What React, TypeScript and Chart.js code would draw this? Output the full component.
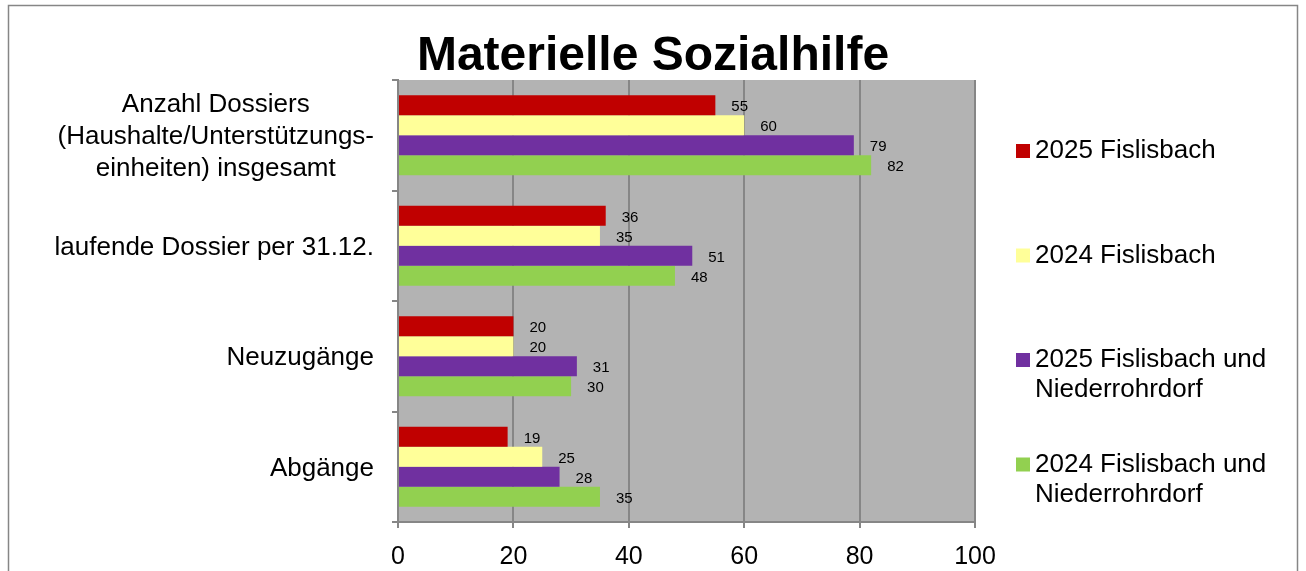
import React, { useEffect, useRef } from "react";
import { Chart, registerables } from "chart.js";

Chart.register(...registerables);

const chartTitle = "Materielle Sozialhilfe";
const categories: string[][] = [
  ["Anzahl Dossiers", "(Haushalte/Unterstützungs-", "einheiten) insgesamt"],
  ["laufende Dossier per 31.12."],
  ["Neuzugänge"],
  ["Abgänge"],
];
const seriesNames = [
  "2025 Fislisbach",
  "2024 Fislisbach",
  "2025 Fislisbach und Niederrohrdorf",
  "2024 Fislisbach und Niederrohrdorf",
];
const series2025Fislisbach = [55, 36, 20, 19];
const series2024Fislisbach = [60, 35, 20, 25];
const series2025Both = [79, 51, 31, 28];
const series2024Both = [82, 48, 30, 35];
const seriesValues = [series2025Fislisbach, series2024Fislisbach, series2025Both, series2024Both];
const seriesColors = ["#C00000", "#FFFF99", "#7030A0", "#92D050"];
const xMin = 0;
const xMax = 100;
const xStep = 20;

const FONT = '"Liberation Sans", Arial, sans-serif';
const GRID = "#868686";

const decorPlugin = {
  id: "decor",
  beforeDraw(chart: any) {
    const { ctx, chartArea: a, width, height } = chart;
    ctx.save();
    ctx.fillStyle = "#ffffff";
    ctx.fillRect(0, 0, width, height);
    ctx.strokeStyle = GRID;
    ctx.lineWidth = 1.5;
    ctx.strokeRect(8.5, 5.5, 1289, 700);
    ctx.fillStyle = "#b3b3b3";
    ctx.fillRect(a.left, a.top, a.right - a.left, a.bottom - a.top);
    ctx.restore();
  },
  afterDraw(chart: any) {
    const { ctx } = chart;
    ctx.save();
    // title
    ctx.fillStyle = "#000";
    ctx.font = `bold 48px ${FONT}`;
    ctx.textAlign = "center";
    ctx.textBaseline = "alphabetic";
    ctx.fillText(chartTitle, 653, 70);

    // y labels
    const yScale = chart.scales.y;
    ctx.font = `26px ${FONT}`;
    ctx.textBaseline = "middle";
    const lineH = 32;
    const rightEdge = 374;
    categories.forEach((lines, i) => {
      const cy = yScale.getPixelForTick(i);
      const w = Math.max(...lines.map((l) => ctx.measureText(l).width));
      const cx = rightEdge - w / 2;
      const y0 = cy - ((lines.length - 1) * lineH) / 2 + 2;
      ctx.textAlign = "center";
      lines.forEach((l, k) => ctx.fillText(l, cx, y0 + k * lineH));
    });

    // data labels
    ctx.font = `15px ${FONT}`;
    ctx.textAlign = "left";
    ctx.textBaseline = "middle";
    chart.data.datasets.forEach((ds: any, i: number) => {
      const meta = chart.getDatasetMeta(i);
      meta.data.forEach((bar: any, j: number) => {
        ctx.fillText(String(ds.data[j]), bar.x + 16, bar.y + 2);
      });
    });

    // legend
    ctx.font = `26px ${FONT}`;
    ctx.textBaseline = "middle";
    const maxW = 250;
    chart.data.datasets.forEach((ds: any, i: number) => {
      const words = String(ds.label).split(" ");
      const lines: string[] = [];
      let cur = "";
      words.forEach((wd) => {
        const t = cur ? cur + " " + wd : wd;
        if (ctx.measureText(t).width > maxW && cur) {
          lines.push(cur);
          cur = wd;
        } else cur = t;
      });
      if (cur) lines.push(cur);
      const top = 134 + i * 104.5;
      const firstY = top + 17;
      ctx.fillStyle = ds.backgroundColor;
      ctx.fillRect(1016, firstY - 7, 14, 14);
      ctx.fillStyle = "#000";
      lines.forEach((l, k) => ctx.fillText(l, 1035, firstY + k * 30));
    });
    ctx.restore();
  },
};

export default function App() {
  const ref = useRef<HTMLCanvasElement | null>(null);
  useEffect(() => {
    document.body.style.margin = "0";
    document.body.style.overflow = "hidden";
    const canvas = ref.current!;
    const chart = new Chart(canvas, {
      type: "bar",
      data: {
        labels: categories.map((c) => c.join(" ")),
        datasets: seriesNames.map((name, i) => ({
          label: name,
          data: seriesValues[i],
          backgroundColor: seriesColors[i],
          borderWidth: 0,
          categoryPercentage: 0.724,
          barPercentage: 1,
        })),
      },
      options: {
        indexAxis: "y",
        responsive: false,
        animation: false,
        events: [],
        layout: { padding: { top: 80, right: 331, left: 0, bottom: 0 } },
        plugins: {
          legend: { display: false },
          title: { display: false },
          tooltip: { enabled: false },
        },
        scales: {
          x: {
            min: xMin,
            max: xMax,
            ticks: {
              stepSize: xStep,
              color: "#000",
              font: { family: FONT, size: 25 },
              padding: 14,
            },
            grid: {
              color: GRID,
              lineWidth: 2,
              tickLength: 6,
              drawTicks: true,
            },
            border: { display: true, color: GRID, width: 2 },
            afterFit: (s: any) => {
              s.height = 49;
            },
          },
          y: {
            ticks: { display: false },
            grid: {
              drawOnChartArea: false,
              color: GRID,
              lineWidth: 2,
              tickLength: 6,
              offset: true,
            },
            border: { display: true, color: GRID, width: 2 },
            afterFit: (s: any) => {
              s.width = 398;
            },
          },
        },
      },
      plugins: [decorPlugin],
    } as any);
    return () => chart.destroy();
  }, []);
  return <canvas ref={ref} width={1306} height={571} style={{ display: "block" }} />;
}
